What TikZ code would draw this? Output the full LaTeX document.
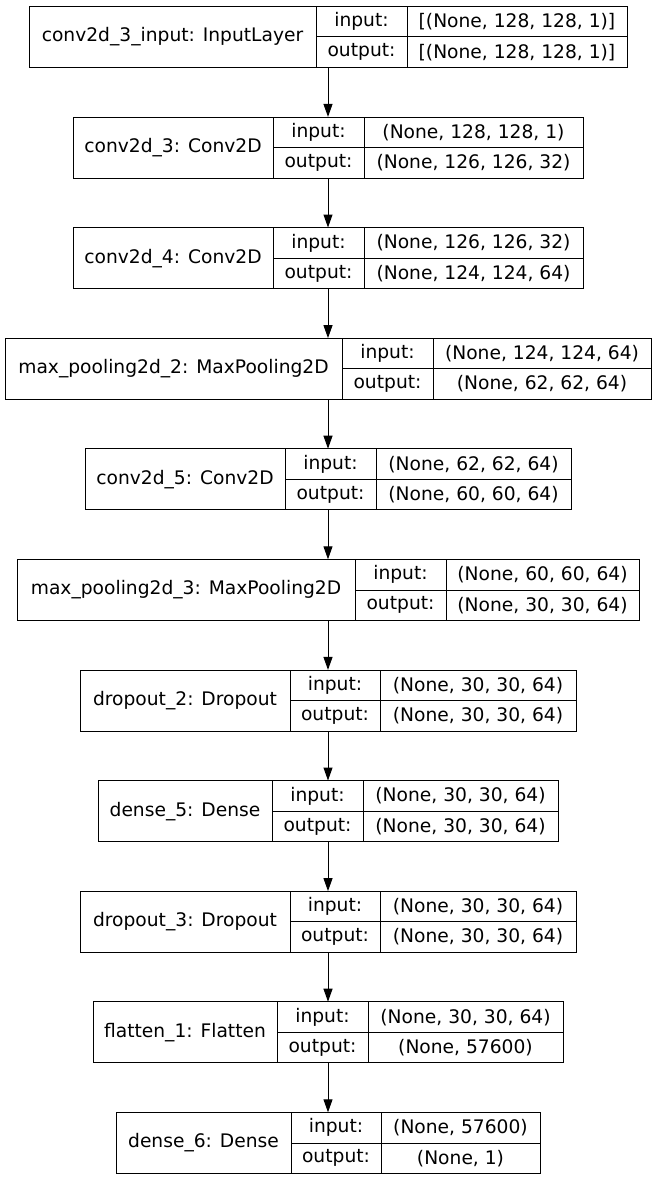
\documentclass[tikz,border=0pt]{standalone}
\usepackage{fontspec}
\setmainfont{DejaVu Sans}
\usepackage{tikz}
\usetikzlibrary{arrows.meta,fit}

% one layer: name, top, left, div1, div2, right, label, input, output
\newcommand{\layer}[9]{%
  \node[cell,minimum width={(#4-#3)*1pt},minimum height=61pt] (#1) at (#3,#2) {#7};
  \node[cell,minimum width={(#5-#4)*1pt},minimum height=30.5pt] (#1-ik) at (#4,#2) {input:};
  \node[cell,minimum width={(#5-#4)*1pt},minimum height=30.5pt] (#1-ok) at (#4,#2+30.5) {output:};
  \node[cell,minimum width={(#6-#5)*1pt},minimum height=30.5pt] (#1-iv) at (#5,#2) {#8};
  \node[cell,minimum width={(#6-#5)*1pt},minimum height=30.5pt] (#1-ov) at (#5,#2+30.5) {#9};
  \node[fit=(#1)(#1-ik)(#1-ov),inner sep=0pt] (#1-box) {};
}

\begin{document}
\begin{tikzpicture}[x=1pt,y=-1pt,
  font=\fontsize{18.67}{22}\selectfont,
  cell/.style={draw,anchor=north west,inner sep=0pt,outer sep=0pt,line width=1pt},
  arr/.style={-{Triangle[length=13pt,width=9pt]},line width=1pt}]
 \useasboundingbox (0,0) rectangle (656,1180);

 \layer{inp}{6.5}{29}{316}{407}{627}{conv2d\_3\_input: InputLayer}{[(None, 128, 128, 1)]}{[(None, 128, 128, 1)]}
 \layer{convA}{117.1}{73}{273}{364}{583}{conv2d\_3: Conv2D}{(None, 128, 128, 1)}{(None, 126, 126, 32)}
 \layer{convB}{227.7}{73}{273}{364}{583}{conv2d\_4: Conv2D}{(None, 126, 126, 32)}{(None, 124, 124, 64)}
 \layer{poolA}{338.3}{5}{342}{433}{651}{max\_pooling2d\_2: MaxPooling2D}{(None, 124, 124, 64)}{(None, 62, 62, 64)}
 \layer{convC}{448.9}{85}{285}{376}{571}{conv2d\_5: Conv2D}{(None, 62, 62, 64)}{(None, 60, 60, 64)}
 \layer{poolB}{559.5}{17}{355}{446}{639}{max\_pooling2d\_3: MaxPooling2D}{(None, 60, 60, 64)}{(None, 30, 30, 64)}
 \layer{dropA}{670.1}{80}{290}{380}{576}{dropout\_2: Dropout}{(None, 30, 30, 64)}{(None, 30, 30, 64)}
 \layer{denseA}{780.7}{98}{272}{363}{558}{dense\_5: Dense}{(None, 30, 30, 64)}{(None, 30, 30, 64)}
 \layer{dropB}{891.3}{80}{290}{380}{576}{dropout\_3: Dropout}{(None, 30, 30, 64)}{(None, 30, 30, 64)}
 \layer{flat}{1001.9}{93}{277}{368}{563}{flatten\_1: Flatten}{(None, 30, 30, 64)}{(None, 57600)}
 \layer{denseB}{1112.5}{116}{291}{381}{540}{dense\_6: Dense}{(None, 57600)}{(None, 1)}

 \path[arr] (inp-box) edge (convA-box);
 \path[arr] (convA-box) edge (convB-box);
 \path[arr] (convB-box) edge (poolA-box);
 \path[arr] (poolA-box) edge (convC-box);
 \path[arr] (convC-box) edge (poolB-box);
 \path[arr] (poolB-box) edge (dropA-box);
 \path[arr] (dropA-box) edge (denseA-box);
 \path[arr] (denseA-box) edge (dropB-box);
 \path[arr] (dropB-box) edge (flat-box);
 \path[arr] (flat-box) edge (denseB-box);

\end{tikzpicture}
\end{document}
